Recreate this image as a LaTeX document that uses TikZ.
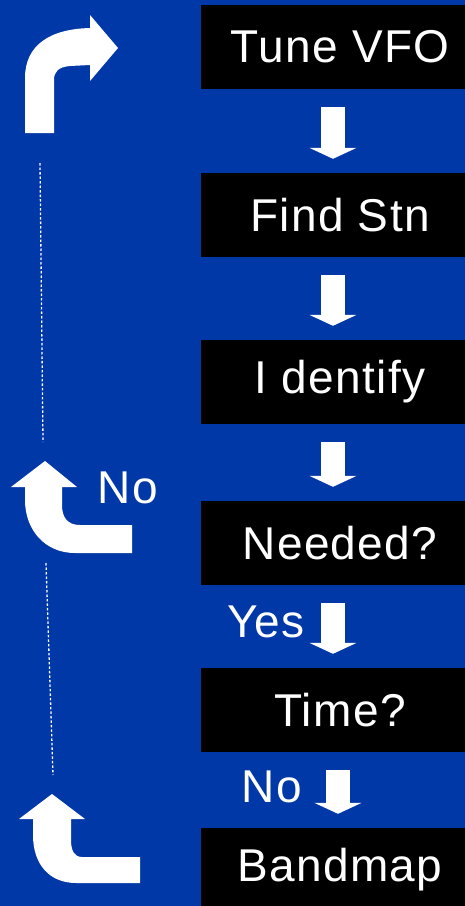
\documentclass[tikz,border=0pt]{standalone}
\usepackage{fontspec}
\setmainfont{Liberation Sans}
\newfontfamily\boxfont[LetterSpace=3]{Liberation Sans}
\usetikzlibrary{arrows.meta}
\definecolor{slideblue}{RGB}{0,56,168}
\begin{document}
\begin{tikzpicture}[x=1pt, y=-1pt,
		box/.style = {fill=black, text=white, minimum width=264pt, minimum height=84pt, inner sep=0pt, font=\boxfont\fontsize{46}{50}\selectfont, execute at begin node=\hspace*{14pt}},
		lbl/.style = {text=white, inner sep=0pt, font=\boxfont\fontsize{46}{50}\selectfont},
		down/.style = {draw=white, line width=24pt, -{Triangle[width=47pt, length=11pt]}, shorten <=18pt, shorten >=14pt},
		retline/.style = {draw=white, line width=1.3pt, dash pattern=on 2.5pt off 2pt}]
				\fill[slideblue] (0,0) rectangle (465,906);
				\useasboundingbox (0,0) rectangle (465,906);
				
				\node[box, execute at begin node={}] (tune) at (333,47) {Tune VFO};
				\node[box] (find) at (333,215) {Find Stn};
				\node[box] (ident) at (333,382) {I dentify};
				\node[box] (need) at (333,543) {Needed?};
				\node[box] (time) at (333,710) {Time?};
				\node[box] (band) at (333,870) {Bandmap};
				
				\node[lbl] (no1) at (128,488) {No};
				\node[lbl] (yes) at (266,622) {Yes};
				\node[lbl] (no2) at (272,787) {No};
				
				\draw[down] (tune) -- (find);
				\draw[down] (find) -- (ident);
				\draw[down] (ident) -- (need);
				\draw[down] (need) -- (time);
				\draw[down] ([xshift=5pt]time.south) -- ([xshift=5pt]band.north);
				
				% turn arrows on the left
				\fill[white] (25,133) -- (25,78) .. controls (25,45) and (50,29) .. (90,28) -- (90,15) -- (118,48) -- (90,81) -- (90,65) -- (70,66) .. controls (58,67) and (54,72) .. (54,80) -- (54,133) -- cycle;
				\fill[white] (45,461) -- (77,487) -- (62,487) -- (62,505) .. controls (62,518) and (68,525) .. (80,525) -- (132,525) -- (132,553) -- (75,553) .. controls (45,553) and (25,530) .. (25,500) -- (25,487) -- (11,487) -- cycle;
				\fill[white] (52,794) -- (85,819) -- (71,819) -- (71,840) .. controls (71,850) and (74,857) .. (82,857) -- (140,857) -- (140,883) -- (76,883) .. controls (50,883) and (33,865) .. (33,835) -- (33,819) -- (19,819) -- cycle;
				
				\coordinate (r1) at (40,163);
				\coordinate (r2) at (43,442);
				\coordinate (r3) at (46,563);
				\coordinate (r4) at (53,775);
				\draw[retline] (r1) -- (r2);
				\draw[retline] (r3) -- (r4);
			\end{tikzpicture}
\end{document}
